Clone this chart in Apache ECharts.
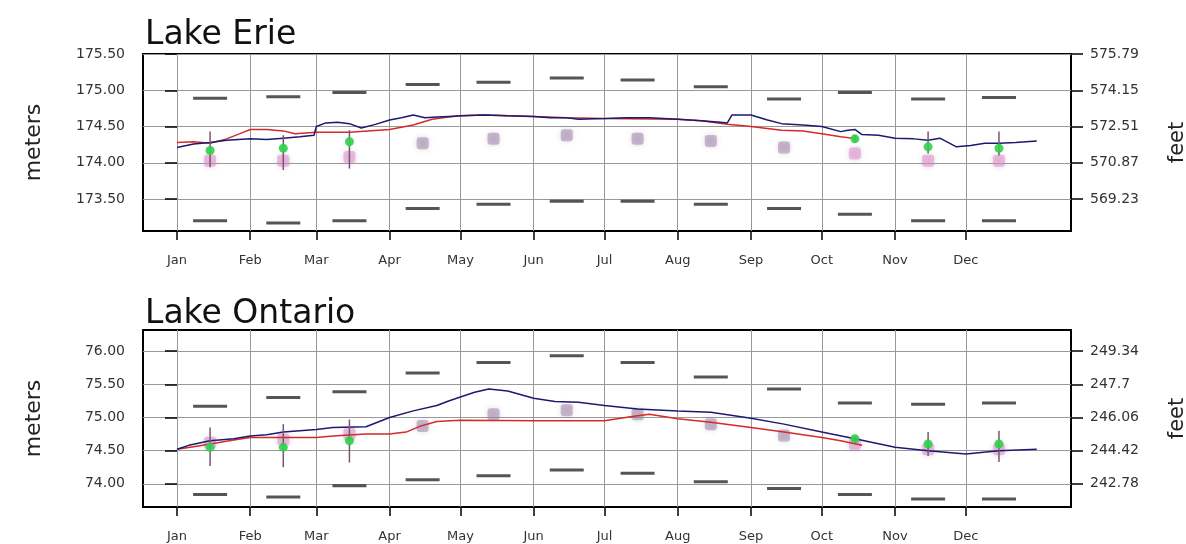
<!DOCTYPE html>
<html>
<head>
<meta charset="utf-8">
<script src="https://cdn.jsdelivr.net/npm/echarts@6/dist/echarts.min.js"></script>
<style>
  html, body { margin: 0; background: #fff; }
  #main { width: 1186px; height: 544px; }
</style>
</head>
<body>
<div id="main"></div>
<script>
// x values are days since Jan 1
var months = ['Jan', 'Feb', 'Mar', 'Apr', 'May', 'Jun', 'Jul', 'Aug', 'Sep', 'Oct', 'Nov', 'Dec'];
var monthStart = [0, 31, 59, 90, 120, 151, 181, 212, 243, 273, 304, 334];
var midMonth = [14, 45, 73, 104, 134, 165, 195, 226, 257, 287, 318, 348];

// Lake Erie (meters)
var erieTicks = [173.5, 174.0, 174.5, 175.0, 175.5];
var erieHigh = [174.89, 174.91, 174.97, 175.08, 175.11, 175.17, 175.14, 175.05, 174.88, 174.97, 174.88, 174.90];
var erieLow = [173.20, 173.17, 173.20, 173.37, 173.43, 173.47, 173.47, 173.43, 173.37, 173.29, 173.20, 173.20];
var erieAvg = [174.03, 174.03, 174.08, 174.27, 174.33, 174.38, 174.33, 174.30, 174.21, 174.13, 174.03, 174.03];
var erieFcst = [174.17, 174.20, 174.29, null, null, null, null, null, null, 174.33, 174.22, 174.20];
var erieFcstHi = [174.43, 174.38, 174.45, null, null, null, null, null, null, 174.38, 174.43, 174.43];
var erieFcstLo = [173.94, 173.90, 173.92, null, null, null, null, null, null, 174.28, 174.13, 174.10];
var erieBlueDays = [0, 7, 14, 21, 31, 38, 45, 52, 58, 59, 63, 68, 73, 78, 84, 90, 95, 100, 105, 110, 115, 120, 130, 140, 151, 158, 165, 170, 181, 190, 200, 212, 222, 230, 233, 235, 243, 250, 256, 265, 273, 281, 284, 287, 290, 297, 304, 312, 318, 323, 330, 336, 342, 348, 355, 364];
var erieBlue = [174.21, 174.26, 174.28, 174.31, 174.33, 174.32, 174.34, 174.36, 174.38, 174.50, 174.55, 174.56, 174.54, 174.48, 174.53, 174.59, 174.62, 174.66, 174.62, 174.63, 174.64, 174.65, 174.66, 174.65, 174.64, 174.62, 174.62, 174.60, 174.61, 174.62, 174.62, 174.60, 174.58, 174.56, 174.55, 174.66, 174.66, 174.59, 174.54, 174.52, 174.50, 174.43, 174.45, 174.46, 174.39, 174.38, 174.34, 174.33, 174.31, 174.34, 174.22, 174.24, 174.27, 174.27, 174.28, 174.30];
var erieRedDays = [0, 7, 14, 21, 28, 31, 38, 45, 50, 59, 73, 90, 100, 108, 115, 120, 130, 151, 165, 181, 212, 222, 233, 243, 256, 265, 273, 281, 288];
var erieRed = [174.28, 174.29, 174.27, 174.33, 174.42, 174.46, 174.46, 174.44, 174.40, 174.42, 174.42, 174.46, 174.52, 174.60, 174.63, 174.65, 174.66, 174.64, 174.62, 174.61, 174.60, 174.58, 174.53, 174.50, 174.45, 174.44, 174.40, 174.36, 174.33];

// Lake Ontario (meters)
var ontTicks = [74.0, 74.5, 75.0, 75.5, 76.0];
var ontHigh = [75.17, 75.30, 75.39, 75.67, 75.83, 75.93, 75.83, 75.61, 75.43, 75.22, 75.20, 75.22];
var ontLow = [73.84, 73.80, 73.97, 74.06, 74.12, 74.21, 74.16, 74.03, 73.93, 73.84, 73.77, 73.77];
var ontAvg = [74.62, 74.67, 74.75, 74.87, 75.05, 75.11, 75.05, 74.90, 74.73, 74.60, 74.52, 74.52];
var ontFcst = [74.55, 74.55, 74.65, null, null, null, null, null, null, 74.68, 74.60, 74.60];
var ontFcstHi = [74.85, 74.90, 74.97, null, null, null, null, null, null, 74.72, 74.78, 74.80];
var ontFcstLo = [74.27, 74.25, 74.32, null, null, null, null, null, null, 74.62, 74.42, 74.33];
var ontBlueDays = [0, 5, 10, 14, 24, 31, 38, 45, 52, 59, 66, 80, 90, 100, 110, 115, 120, 126, 132, 140, 151, 160, 170, 181, 195, 212, 226, 243, 257, 273, 287, 304, 318, 334, 348, 364];
var ontBlue = [74.52, 74.58, 74.62, 74.65, 74.68, 74.72, 74.74, 74.78, 74.80, 74.82, 74.85, 74.86, 75.00, 75.10, 75.18, 75.25, 75.31, 75.38, 75.43, 75.40, 75.29, 75.24, 75.23, 75.18, 75.13, 75.10, 75.08, 74.99, 74.90, 74.78, 74.68, 74.55, 74.50, 74.45, 74.50, 74.52];
var ontRedDays = [0, 7, 14, 24, 31, 45, 59, 66, 80, 90, 97, 103, 110, 120, 151, 181, 192, 200, 212, 226, 243, 257, 273, 281, 290];
var ontRed = [74.52, 74.56, 74.60, 74.66, 74.70, 74.70, 74.70, 74.72, 74.75, 74.75, 74.78, 74.87, 74.94, 74.96, 74.95, 74.95, 75.01, 75.05, 74.98, 74.93, 74.85, 74.78, 74.70, 74.65, 74.58];

var M_TO_FT = 3.28084;
var fcstIdx = [0, 1, 2, 9, 10, 11];
var font = 'DejaVu Sans';

function pairs(xs, ys) {
  return xs.map(function (x, i) { return [x, ys[i]]; });
}
function monthly(vals) {
  var out = [];
  vals.forEach(function (v, i) { if (v != null) out.push([midMonth[i], v]); });
  return out;
}
function bars(lo, hi) {
  var out = [];
  lo.forEach(function (v, i) { if (v != null) out.push([midMonth[i], v, hi[i]]); });
  return out;
}

function xAxisFor(gi) {
  return {
    type: 'value', gridIndex: gi, min: -14.4, max: 378.5,
    axisLine: { show: false },
    axisTick: { show: true, length: 9, customValues: monthStart, lineStyle: { color: '#000', width: 1.5 } },
    axisLabel: {
      customValues: monthStart, margin: 23, color: '#333', fontSize: 13, fontFamily: font,
      formatter: function (v) { return months[monthStart.indexOf(v)]; }
    },
    splitLine: { show: true, lineStyle: { color: '#999', width: 1 } }
  };
}
function yAxesFor(gi, min, max, ticks) {
  return [{
    type: 'value', gridIndex: gi, min: min, max: max, position: 'left',
    name: 'meters', nameLocation: 'middle', nameGap: 98, nameRotate: 90,
    nameTextStyle: { fontSize: 22, color: '#222', fontFamily: font },
    axisLine: { show: false },
    axisTick: { show: true, length: 12, customValues: ticks, lineStyle: { color: '#000', width: 1.5 } },
    axisLabel: { customValues: ticks, margin: 18, color: '#333', fontSize: 14, fontFamily: font,
      formatter: function (v) { return v.toFixed(2); } },
    splitLine: { show: true, lineStyle: { color: '#999', width: 1 } }
  }, {
    type: 'value', gridIndex: gi, min: min, max: max, position: 'right',
    name: 'feet', nameLocation: 'middle', nameGap: 96, nameRotate: 90,
    nameTextStyle: { fontSize: 21, color: '#222', fontFamily: font },
    axisLine: { show: false },
    axisTick: { show: true, length: 12, customValues: ticks, lineStyle: { color: '#000', width: 1.5 } },
    axisLabel: { customValues: ticks, margin: 19, color: '#333', fontSize: 14, fontFamily: font,
      formatter: function (v) { return String(parseFloat((v * M_TO_FT).toFixed(2))); } },
    splitLine: { show: false }
  }];
}

function lakeSeries(gi, high, low, avg, fcst, lo, hi, blueD, blue, redD, red) {
  var xi = gi, yi = gi * 2;
  var dash = { type: 'scatter', xAxisIndex: xi, yAxisIndex: yi, symbol: 'rect', symbolSize: [34, 3],
    itemStyle: { color: '#2b2b2b' }, z: 3, silent: true };
  return [
    Object.assign({ data: monthly(high) }, dash),
    Object.assign({ data: monthly(low) }, dash),
    {
      type: 'scatter', xAxisIndex: xi, yAxisIndex: yi, data: monthly(avg), symbol: 'roundRect', symbolSize: 12, z: 3,
      itemStyle: {
        opacity: 0.5, shadowBlur: 5,
        color: function (p) { return fcstIdx.indexOf(p.dataIndex) >= 0 ? '#e08ac8' : '#9a82a4'; },
        shadowColor: 'rgba(160,120,170,0.6)'
      }
    },
    { type: 'line', xAxisIndex: xi, yAxisIndex: yi, data: pairs(redD, red), showSymbol: false, z: 4,
      lineStyle: { color: '#d42a2a', width: 1.5 } },
    { type: 'line', xAxisIndex: xi, yAxisIndex: yi, data: pairs(blueD, blue), showSymbol: false, z: 5,
      lineStyle: { color: '#1a1a70', width: 1.5 } },
    {
      type: 'custom', xAxisIndex: xi, yAxisIndex: yi, data: bars(lo, hi), z: 6,
      encode: { x: 0, y: [1, 2] },
      renderItem: function (params, api) {
        var a = api.coord([api.value(0), api.value(1)]);
        var b = api.coord([api.value(0), api.value(2)]);
        return { type: 'line', shape: { x1: a[0], y1: a[1], x2: b[0], y2: b[1] },
          style: { stroke: '#7a5570', lineWidth: 1.5 } };
      }
    },
    { type: 'scatter', xAxisIndex: xi, yAxisIndex: yi, data: monthly(fcst), symbolSize: 9, z: 7,
      itemStyle: { color: '#2fd04a', opacity: 0.9 } }
  ];
}

var chart = echarts.init(document.getElementById('main'));
var yErie = yAxesFor(0, 173.06, 175.50, erieTicks);
var yOnt = yAxesFor(1, 73.65, 76.32, ontTicks);

chart.setOption({
  backgroundColor: '#fff',
  animation: false,
  title: [
    { text: 'Lake Erie', left: 140, top: 14, textStyle: { fontSize: 33, fontWeight: 'normal', color: '#111', fontFamily: font } },
    { text: 'Lake Ontario', left: 140, top: 293, textStyle: { fontSize: 33, fontWeight: 'normal', color: '#111', fontFamily: font } }
  ],
  grid: [
    { left: 143, top: 54, width: 928, height: 177, show: true, borderColor: '#000', borderWidth: 2, outerBoundsMode: 'none' },
    { left: 143, top: 330, width: 928, height: 177, show: true, borderColor: '#000', borderWidth: 2, outerBoundsMode: 'none' }
  ],
  xAxis: [xAxisFor(0), xAxisFor(1)],
  yAxis: [yErie[0], yErie[1], yOnt[0], yOnt[1]],
  series: lakeSeries(0, erieHigh, erieLow, erieAvg, erieFcst, erieFcstLo, erieFcstHi, erieBlueDays, erieBlue, erieRedDays, erieRed)
    .concat(lakeSeries(1, ontHigh, ontLow, ontAvg, ontFcst, ontFcstLo, ontFcstHi, ontBlueDays, ontBlue, ontRedDays, ontRed))
});
</script>
</body>
</html>
